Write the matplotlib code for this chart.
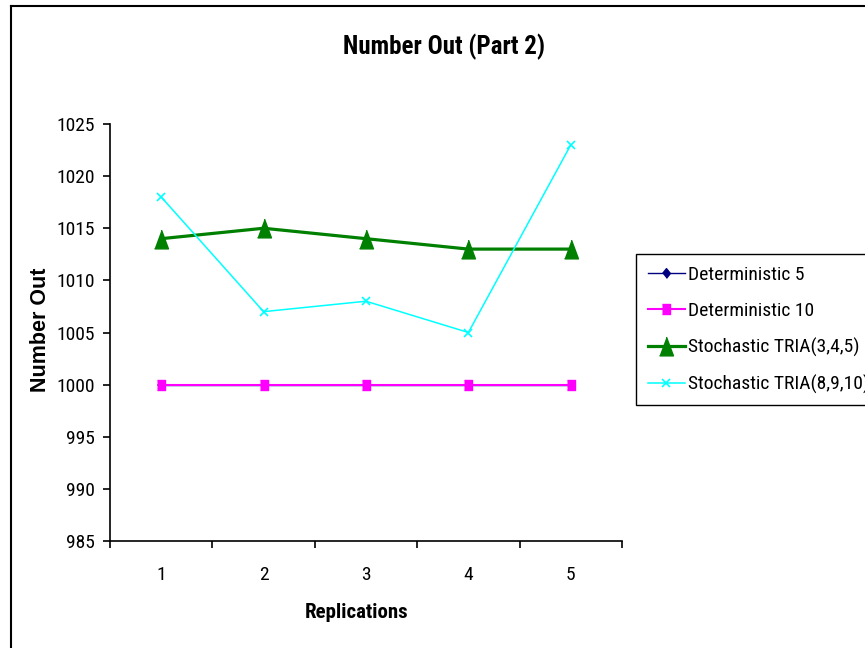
import matplotlib
matplotlib.use("Agg")
import matplotlib.pyplot as plt
from matplotlib.lines import Line2D
from matplotlib.ticker import FixedLocator, NullFormatter

FONT = ["Roboto Condensed", "Liberation Sans", "DejaVu Sans"]
WIDE = ["Liberation Sans", "DejaVu Sans"]
plt.rcParams["font.family"] = FONT

# ── data ──────────────────────────────────────────────────────────────────────
replications = [1, 2, 3, 4, 5]
det_5 = [1000, 1000, 1000, 1000, 1000]
det_10 = [1000, 1000, 1000, 1000, 1000]
tria_345 = [1014, 1015, 1014, 1013, 1013]
tria_8910 = [1018, 1007, 1008, 1005, 1023]
y_ticks = [985, 990, 995, 1000, 1005, 1010, 1015, 1020, 1025]

W, H = 865, 648
fig = plt.figure(figsize=(W / 100, H / 100), dpi=100)
ax = fig.add_axes([110 / W, 1 - 541 / H, (622 - 110) / W, (541 - 124) / H])

# chart is horizontally squeezed, so markers are a bit taller than wide
tall_tri = [(-0.74, -1), (0.74, -1), (0, 1)]
tall_sq = [(-0.8, -1), (0.8, -1), (0.8, 1), (-0.8, 1)]
tall_dia = [(0, -1), (0.8, 0), (0, 1), (-0.8, 0)]

ax.plot(replications, det_5, color="#000080", marker=tall_dia, markersize=7,
        linewidth=1, label="Deterministic 5")
ax.plot(replications, det_10, color="#FF00FF", marker=tall_sq, markersize=7,
        linewidth=1.5, label="Deterministic 10")
ax.plot(replications, tria_345, color="#008000", marker=tall_tri,
        markersize=13.5, linewidth=2.3, label="Stochastic TRIA(3,4,5)")
ax.plot(replications, tria_8910, color="#00FFFF", marker="x", markersize=5.5,
        markeredgewidth=1.2, linewidth=1.1, label="Stochastic TRIA(8,9,10)")

ax.set_xlim(0.5, 5.5)
ax.set_ylim(985, 1025)
ax.set_yticks(y_ticks)
ax.set_xticks(replications)
ax.tick_params(axis="x", which="major", length=0, pad=18, labelsize=14)
ax.xaxis.set_minor_locator(FixedLocator([0.5, 1.5, 2.5, 3.5, 4.5, 5.5]))
ax.xaxis.set_minor_formatter(NullFormatter())
ax.tick_params(axis="x", which="minor", length=5, width=1.2, direction="out")
ax.tick_params(axis="y", length=5, width=1.2, direction="out", pad=6,
               labelsize=14)
for s in ("top", "right"):
    ax.spines[s].set_visible(False)
for s in ("left", "bottom"):
    ax.spines[s].set_linewidth(1.2)

fig.text(357 / W, 1 - 612 / H, "Replications", fontsize=15,
         fontweight="bold", ha="center", va="center")
fig.text(41 / W, 1 - 330 / H, "Number Out", fontsize=15.5, fontweight="bold",
         ha="center", va="center", rotation=90, family=WIDE)
fig.text(444 / W, 1 - 47 / H, "Number Out (Part 2)", fontsize=18,
         fontweight="bold", ha="center", va="center")

fig.legend(loc="upper left", bbox_to_anchor=(636 / W, 1 - 254 / H),
           fontsize=14, frameon=True, fancybox=False, edgecolor="black",
           framealpha=1, handlelength=1.9, handletextpad=0.2,
           labelspacing=0.92, borderpad=0.6, borderaxespad=0)

# outer chart border (runs off the right and bottom edges)
fig.add_artist(Line2D([11 / W, 11 / W], [0, 1 - 6 / H], color="black",
                      linewidth=1.5))
fig.add_artist(Line2D([11 / W, 1], [1 - 6 / H, 1 - 6 / H], color="black",
                      linewidth=1.5))

fig.savefig("out.png", dpi=100)
